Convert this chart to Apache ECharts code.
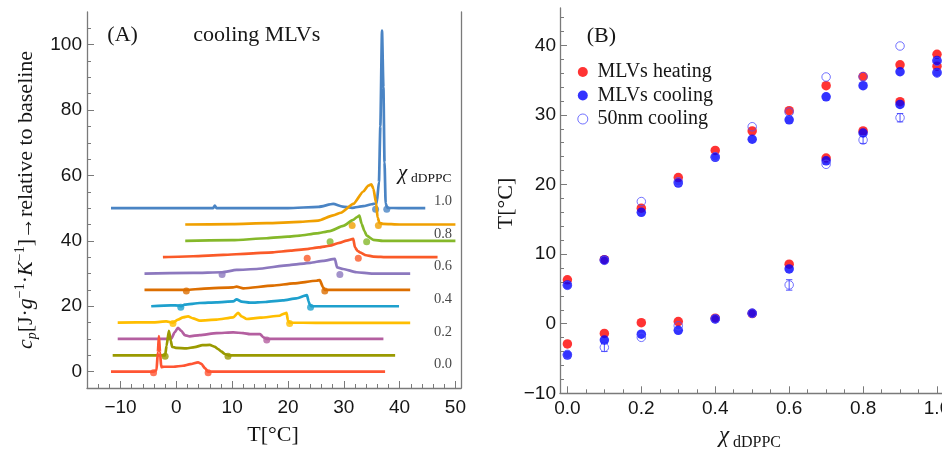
<!DOCTYPE html>
<html>
<head>
<meta charset="utf-8">
<script src="https://cdn.jsdelivr.net/npm/echarts@6/dist/echarts.min.js"></script>
<style>
  html, body { margin: 0; padding: 0; background: #ffffff; }
  #chart { width: 942px; height: 450px; }
</style>
</head>
<body>
<div id="chart"></div>
<script>
// ---------- Panel A: cooling DSC scans of MLVs, shifted by 5 per composition ----------
const chiValues = [0.0, 0.1, 0.2, 0.3, 0.4, 0.5, 0.6, 0.7, 0.8, 0.9, 1.0];
const scanShift = [0, 5, 10, 15, 20, 25, 30, 35, 40, 45, 50];
const chiLabelled = ['0.0', '0.2', '0.4', '0.6', '0.8', '1.0'];
const chiLabelShift = [0, 10, 20, 30, 40, 50];

// [T (°C), cp (J g^-1 K^-1) relative to baseline]
const scan00 = [[-11.7,0],[-6,0],[-4.1,0],[-3.55,0.4],[-3.3,6],[-3.12,10.9],[-2.92,6],[-2.7,1.4],[-2.2,1.5],[-0.5,1.5],[1.2,1.8],[2.5,2.3],[3.9,2.85],[4.5,2.4],[5.1,1.1],[5.7,0],[10,0],[20,0],[30,0],[37.4,0]];
const scan01 = [[-11.4,0],[-5,0],[-2.5,0],[-2.0,0],[-1.75,2.9],[-1.33,7.5],[-1.0,4.5],[-0.75,2.6],[-0.1,2.3],[1.8,2.1],[3.3,2.5],[4.7,3.1],[6.0,3.16],[6.9,2.6],[7.5,1.9],[8.1,1.1],[8.7,0.4],[9.3,0],[15,0],[25,0],[39.2,0]];
const scan02 = [[-10.5,0],[-3,0],[-1.5,0],[-0.9,0.1],[-0.3,2.0],[0.29,3.4],[0.9,2.5],[1.5,1.2],[2.4,0.8],[4.2,1.2],[7.2,1.8],[10.2,2.0],[12,1.8],[13.2,1.5],[15,1.5],[15.6,0.5],[16.2,0],[20,0],[30,0],[37.1,0]];
const scan03 = [[-10.5,0],[-4,0.1],[-1.8,0.4],[-0.6,0],[0.3,0.9],[1.2,1.6],[2.1,1.9],[3.0,1.3],[4.2,0.6],[7.2,0.9],[10.2,1.6],[11.06,3.0],[11.7,1.9],[12.6,1.1],[15,1.5],[18.5,2.1],[19.1,2.6],[19.75,2.95],[20.0,0.6],[20.3,0],[25,-0.1],[41.9,-0.1]];
const scan04 = [[-4.5,0],[-1,0.3],[0.5,0.2],[0.9,0],[1.5,0.5],[4.2,1.0],[7.2,1.2],[10.2,1.5],[10.8,2.1],[11.7,1.4],[13.2,1.1],[16,1.3],[19.1,1.8],[21.5,2.4],[23.4,3.4],[23.7,1.5],[23.9,0.5],[24.2,0],[30,0],[39.9,0]];
const scan05 = [[-5.7,0],[0,0],[1.8,0],[5,0.4],[10.2,0.8],[10.8,1.0],[12,0.5],[17.3,1.3],[21,2.0],[25.1,2.8],[25.7,3.0],[26.3,0.8],[26.6,0],[30,0],[41.9,0]];
const scan06 = [[-5.7,0],[3,0.2],[8.2,0.4],[10.8,1.1],[14.4,1.4],[20.3,2.6],[24,3.3],[26.3,3.9],[28.4,4.5],[28.8,1.9],[29.9,1.4],[32.3,0.4],[35,0],[41.9,0]];
const scan07 = [[-2.4,0],[3,0.3],[8.4,0.7],[13,1.1],[17.3,1.5],[20.5,2.0],[23.3,2.5],[25.5,3.0],[27.5,3.5],[29.2,4.4],[30.5,5.1],[31.7,5.6],[32.0,3.0],[32.5,1.9],[32.9,1.5],[34,0.6],[35.3,0.2],[38,0],[46.8,0]];
const scan08 = [[1.6,0],[10,0.2],[16.2,0.8],[20,1.3],[22.1,1.6],[25.1,2.3],[27.5,3.0],[29.9,4.6],[31.7,6.4],[32.3,7.2],[32.8,7.7],[33.2,5.2],[33.7,3.0],[34.1,1.6],[35.3,0.3],[37,0],[50,0]];
const scan09 = [[1.6,0],[10,0.1],[16.2,0.4],[22.1,0.8],[25.4,1.2],[28.1,2.8],[29.5,3.6],[31.7,6.3],[33.5,10.1],[34.4,11.9],[34.95,12.3],[35.3,11.0],[35.8,6.5],[36.05,2.2],[36.4,0.5],[37,0.2],[40,0],[50,0]];
const scan10 = [[-11.7,0],[-2,0],[6.6,0],[6.9,0.8],[7.2,0],[20,0],[25.5,0.4],[28.1,1.3],[29.8,0.5],[31.5,0.1],[33.5,0.6],[35,1.2],[35.9,1.5],[36.3,8],[36.55,25],[36.85,54.3],[37.1,37],[37.3,14],[37.5,1.5],[37.8,0.1],[40,0],[44.6,0]];

// onset / completion temperatures marked on each scan
const marks00 = [[-4.08,-0.3],[5.7,-0.3]];
const marks01 = [[-2.0,-0.3],[9.26,-0.3]];
const marks02 = [[16.2,-0.3]];
const marks03 = [[-0.6,-0.3],[20.3,-0.3]];
const marks04 = [[0.8,-0.3],[24.05,-0.3]];
const marks05 = [[1.8,-0.3],[26.6,-0.3]];
const marks06 = [[8.2,-0.3],[29.3,-0.3]];
const marks07 = [[23.45,-0.3],[32.6,-0.3]];
const marks08 = [[27.55,-0.3],[34.1,-0.3]];
const marks09 = [[31.5,-0.3],[36.2,-0.3]];
const marks10 = [[35.7,-0.3],[37.7,-0.3]];

const scans = [scan00, scan01, scan02, scan03, scan04, scan05, scan06, scan07, scan08, scan09, scan10];
const marks = [marks00, marks01, marks02, marks03, marks04, marks05, marks06, marks07, marks08, marks09, marks10];
const scanColors = ['#ff5533', '#9a9a00', '#b45fa0', '#ffbe00', '#1ea0cd', '#dc6e00', '#8c78be', '#fa5a28', '#85b82a', '#f0a000', '#4a84c4'];

const ticksTA = [-10, 0, 10, 20, 30, 40, 50];
const minorTA = [-14, -12, -8, -6, -4, -2, 2, 4, 6, 8, 12, 14, 16, 18, 22, 24, 26, 28, 32, 34, 36, 38, 42, 44, 46, 48];
const ticksCpA = [0, 20, 40, 60, 80, 100];
const minorCpA = [5, 10, 15, 25, 30, 35, 45, 50, 55, 65, 70, 75, 85, 90, 95, 105];

// ---------- Panel B: transition temperatures vs. composition ----------
const chiB = [0.0, 0.1, 0.2, 0.3, 0.4, 0.5, 0.6, 0.7, 0.8, 0.9, 1.0];
const heatLow   = [-2.9, -1.4, 0.15, 0.3, 0.8, 1.45, 8.55, 23.8, 27.7, 31.9, 37.0];
const heatHigh  = [6.3, 9.2, 16.6, 21.0, 24.9, 27.7, 30.6, 34.2, 35.5, 37.2, 38.7];
const coolLow   = [-4.5, -2.35, -1.5, -0.95, 0.68, 1.5, 7.87, 23.4, 27.4, 31.5, 36.1];
const coolHigh  = [5.57, 9.16, 16.0, 20.2, 23.9, 26.5, 29.3, 32.6, 34.2, 36.2, 37.8];
const nmLow     = [-4.4, -3.4, -1.96, -0.3, 0.7, 1.5, 5.57, 22.9, 26.4, 29.6, 36.0];
const nmHigh    = [5.5, 9.1, 17.55, 20.4, 24.0, 28.3, 30.4, 35.45, 35.5, 39.9, 37.7];
const nmLowErr  = [0, 0.6, 0, 0, 0, 0, 0.75, 0, 0.5, 0.6, 0];
const nmHighErr = [0, 0, 0, 0, 0, 0, 0, 0, 0, 0, 0];

const ticksChiB = [0.0, 0.2, 0.4, 0.6, 0.8, 1.0];
const minorChiB = [0.05, 0.1, 0.15, 0.25, 0.3, 0.35, 0.45, 0.5, 0.55, 0.65, 0.7, 0.75, 0.85, 0.9, 0.95];
const ticksTB = [-10, 0, 10, 20, 30, 40];
const minorTB = [-8, -6, -4, -2, 2, 4, 6, 8, 12, 14, 16, 18, 22, 24, 26, 28, 32, 34, 36, 38, 42, 44];

// ---------- styling ----------
const SERIF = 'Liberation Serif';
const SANS = 'Liberation Sans';
const FRAME = '#7a7a7a';
const INK = '#161616';
const minus = v => (v < 0 ? '\u2212' + Math.abs(v) : String(v));

function mainAxis(gridIndex, position, min, max, major, fmt, margin, tickLen) {
  return {
    type: 'value', gridIndex, position, min, max,
    axisLine: { show: true, onZero: false, lineStyle: { color: FRAME, width: 1.3 } },
    axisTick: { show: true, inside: true, length: tickLen, customValues: major, lineStyle: { color: FRAME, width: 1 } },
    axisLabel: { show: true, customValues: major, formatter: fmt, margin, fontFamily: SANS, fontSize: 19, color: INK },
    splitLine: { show: false }
  };
}
function minorAxis(gridIndex, position, min, max, minor) {
  return {
    type: 'value', gridIndex, position, min, max,
    axisLine: { show: false, onZero: false },
    axisTick: { show: true, inside: true, length: 4, customValues: minor, lineStyle: { color: FRAME, width: 1 } },
    axisLabel: { show: false },
    splitLine: { show: false }
  };
}

const xAxes = [
  mainAxis(0, 'bottom', -16, 51, ticksTA, minus, 10, 7),
  minorAxis(0, 'bottom', -16, 51, minorTA),
  mainAxis(1, 'bottom', -0.02, 1.02, ticksChiB, v => v.toFixed(1), 6, 7),
  minorAxis(1, 'bottom', -0.02, 1.02, minorChiB)
];
const yAxes = [
  mainAxis(0, 'left', -5, 110, ticksCpA, minus, 5, 7),
  minorAxis(0, 'left', -5, 110, minorCpA),
  {
    type: 'value', gridIndex: 0, position: 'right', min: -5, max: 110,
    axisLine: { show: true, onZero: false, lineStyle: { color: FRAME, width: 1.3 } },
    axisTick: { show: false }, axisLabel: { show: false }, splitLine: { show: false }
  },
  mainAxis(1, 'left', -10, 45.36, ticksTB, minus, 4, 7),
  minorAxis(1, 'left', -10, 45.36, minorTB)
];

// ---------- series ----------
const series = [];
for (let i = scans.length - 1; i >= 0; i--) {
  const s = scanShift[i];
  series.push({
    type: 'line', name: 'scan ' + chiValues[i].toFixed(1),
    xAxisIndex: 0, yAxisIndex: 0,
    data: scans[i].map(p => [p[0], p[1] + s]),
    showSymbol: false, smooth: 0.2, smoothMonotone: 'x',
    lineStyle: { color: scanColors[i], width: 2.7 },
    silent: true
  });
  series.push({
    type: 'scatter', name: 'marks ' + chiValues[i].toFixed(1),
    xAxisIndex: 0, yAxisIndex: 0,
    data: marks[i].map(p => [p[0], p[1] + s]),
    symbol: 'circle', symbolSize: 7,
    itemStyle: { color: scanColors[i] },
    silent: true
  });
}
// composition labels at the right end of every second scan
series.push({
  type: 'scatter', name: 'chi labels', xAxisIndex: 0, yAxisIndex: 0,
  data: chiLabelled.map((t, k) => ({ value: [49.4, chiLabelShift[k]], name: t })),
  symbolSize: 0, silent: true,
  label: {
    show: true, position: [0, 0], formatter: p => p.name,
    align: 'right', verticalAlign: 'bottom',
    fontFamily: SERIF, fontSize: 14.5, lineHeight: 14, color: INK
  }
});

const heatPts = chiB.map((x, i) => [x, heatHigh[i]]).concat(chiB.map((x, i) => [x, heatLow[i]]));
const coolPts = chiB.map((x, i) => [x, coolHigh[i]]).concat(chiB.map((x, i) => [x, coolLow[i]]));
const nmPts = chiB.map((x, i) => [x, nmHigh[i]]).concat(chiB.map((x, i) => [x, nmLow[i]]));
const nmErr = chiB.map((x, i) => [x, nmHigh[i], nmHighErr[i]])
  .concat(chiB.map((x, i) => [x, nmLow[i], nmLowErr[i]]))
  .filter(d => d[2] > 0);

const OPEN = '#4f4fff';
series.push(
  { type: 'scatter', name: 'MLVs heating', xAxisIndex: 2, yAxisIndex: 3, data: heatPts,
    symbol: 'circle', symbolSize: 9.5, itemStyle: { color: '#ff0000' }, silent: true },
  { type: 'scatter', name: 'MLVs cooling', xAxisIndex: 2, yAxisIndex: 3, data: coolPts,
    symbol: 'circle', symbolSize: 9.5, itemStyle: { color: '#0000ff' }, silent: true },
  { type: 'custom', name: 'error bars', xAxisIndex: 2, yAxisIndex: 3, data: nmErr, silent: true,
    renderItem: function (params, api) {
      const x = api.value(0), y = api.value(1), e = api.value(2);
      const a = api.coord([x, y + e]), b = api.coord([x, y - e]);
      const hw = 3.2;
      const st = { stroke: OPEN, lineWidth: 1 };
      return { type: 'group', children: [
        { type: 'line', shape: { x1: a[0], y1: a[1], x2: b[0], y2: b[1] }, style: st },
        { type: 'line', shape: { x1: a[0] - hw, y1: a[1], x2: a[0] + hw, y2: a[1] }, style: st },
        { type: 'line', shape: { x1: b[0] - hw, y1: b[1], x2: b[0] + hw, y2: b[1] }, style: st }
      ] };
    }
  },
  { type: 'scatter', name: '50nm cooling', xAxisIndex: 2, yAxisIndex: 3, data: nmPts,
    symbol: 'circle', symbolSize: 8.5,
    itemStyle: { color: 'rgba(255,255,255,0)', borderColor: OPEN, borderWidth: 1 }, silent: true }
);

// ---------- free text ----------
function label(x, y, text, size, extra) {
  return { type: 'text', x, y, silent: true,
    style: Object.assign({ text, fontFamily: SERIF, fontSize: size, fill: INK, align: 'left', verticalAlign: 'middle' }, extra || {}) };
}
const graphic = [
  label(107.3, 35.5, '(A)', 22),
  label(193.3, 35.5, 'cooling MLVs', 22),
  label(398, 173.2, 'χ', 21, { fontStyle: 'italic' }),
  label(411, 178.3, 'dDPPC', 13.5),
  label(586.7, 36.2, '(B)', 22),
  label(273, 435.5, 'T[°C]', 22, { align: 'center' }),
  label(719, 436.1, 'χ', 23, { fontStyle: 'italic' }),
  label(733, 442.9, 'dDPPC', 16),
  { type: 'text', x: 506.7, y: 203.5, rotation: Math.PI / 2, silent: true,
    style: { text: 'T[°C]', fontFamily: SERIF, fontSize: 22, fill: INK, align: 'center', verticalAlign: 'middle' } },
  { type: 'text', x: 26, y: 200, rotation: Math.PI / 2, silent: true,
    style: {
      text: '{i|c}{sb|p}{n|[J·}{i|g}{sp|\u22121}{n|·}{i|K}{sp|\u22121}{n|]→relative to baseline}',
      align: 'center', verticalAlign: 'middle',
      rich: {
        n:  { fontFamily: SERIF, fontSize: 22, lineHeight: 26, verticalAlign: 'middle', fill: INK },
        i:  { fontFamily: SERIF, fontSize: 22, lineHeight: 26, verticalAlign: 'middle', fontStyle: 'italic', fill: INK },
        sb: { fontFamily: SERIF, fontSize: 14, lineHeight: 14, verticalAlign: 'bottom', fontStyle: 'italic', fill: INK },
        sp: { fontFamily: SERIF, fontSize: 14, lineHeight: 14, verticalAlign: 'top', fill: INK }
      }
    }
  }
];

const chart = echarts.init(document.getElementById('chart'), null, { renderer: 'canvas', width: 942, height: 450 });
chart.setOption({
  animation: false,
  backgroundColor: '#ffffff',
  grid: [
    { left: 87, top: 12, width: 374, height: 376, outerBoundsMode: 'none', containLabel: false },
    { left: 560, top: 8, width: 384.4, height: 385.3, outerBoundsMode: 'none', containLabel: false }
  ],
  xAxis: xAxes,
  yAxis: yAxes,
  legend: {
    orient: 'vertical', left: 572.3, top: 54,
    itemWidth: 19.4, itemHeight: 10, itemGap: -2.5,
    selectedMode: false,
    textStyle: { fontFamily: SERIF, fontSize: 20, color: INK, lineHeight: 20, padding: [0, 0, 6, 0] },
    data: [
      { name: 'MLVs heating', icon: 'circle' },
      { name: 'MLVs cooling', icon: 'circle' },
      { name: '50nm cooling', icon: 'circle', itemStyle: { color: 'rgba(255,255,255,0)', borderColor: OPEN, borderWidth: 1 } }
    ]
  },
  graphic,
  series
});
</script>
</body>
</html>
